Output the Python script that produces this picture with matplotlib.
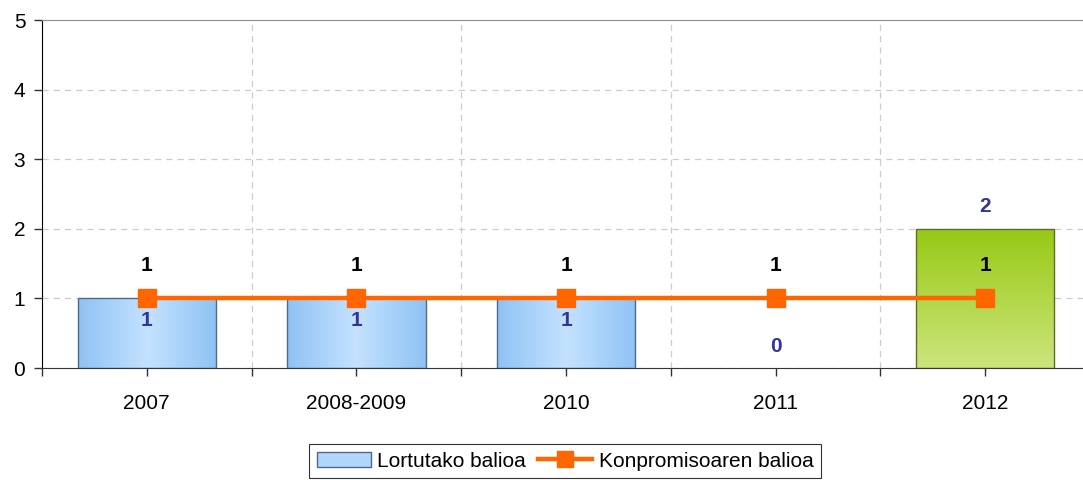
import matplotlib
matplotlib.use("Agg")
import matplotlib.pyplot as plt
import numpy as np
from matplotlib.colors import LinearSegmentedColormap
from matplotlib.patches import Patch
from matplotlib.lines import Line2D

plt.rcParams['font.family'] = ['Liberation Sans', 'DejaVu Sans']

categories = ['2007', '2008-2009', '2010', '2011', '2012']
lortutako = [1, 1, 1, 0, 2]
konpromisoa = [1, 1, 1, 1, 1]

blue_cmap = LinearSegmentedColormap.from_list('b', ['#8fc3f5', '#c4e2ff', '#8fc3f5'])
green_cmap = LinearSegmentedColormap.from_list('g', ['#cde57c', '#97c915'])

fig = plt.figure(figsize=(10.83, 4.8), dpi=100)
ax = fig.add_axes([42 / 1083, 1 - 368 / 480, 1048 / 1083, 348 / 480])

x = np.arange(len(categories))
bars = ax.bar(x, lortutako, width=0.66, facecolor='none', zorder=3)

for b, v, t in zip(bars, lortutako, konpromisoa):
    if v == 0:
        continue
    x0, y0 = b.get_x(), b.get_y()
    x1, y1 = x0 + b.get_width(), y0 + b.get_height()
    if v > t:
        grad = np.linspace(0, 1, 100).reshape(-1, 1)
        cmap, edge = green_cmap, '#5f6b2a'
    else:
        grad = np.linspace(0, 1, 100).reshape(1, -1)
        cmap, edge = blue_cmap, '#4e6a88'
    im = ax.imshow(grad, extent=[x0, x1, y0, y1], origin='lower', aspect='auto',
                   cmap=cmap, zorder=2)
    im.set_clip_path(b)
    b.set_edgecolor(edge)
    b.set_linewidth(1.0)

ax.plot(x, konpromisoa, color='#ff6600', lw=3.2, marker='s', markersize=12.5,
        zorder=5, clip_on=False)

# data labels
for xi, v, t in zip(x, lortutako, konpromisoa):
    off = -22 if v == t else 22
    ax.annotate(str(v), (xi, v), xytext=(0, off), textcoords='offset pixels',
                ha='center', va='center', fontsize=15, fontweight='bold',
                color='#333399', zorder=6)
for xi, t in zip(x, konpromisoa):
    ax.annotate(str(t), (xi, t), xytext=(0, 33), textcoords='offset pixels',
                ha='center', va='center', fontsize=15, fontweight='bold',
                color='black', zorder=6)

ax.set_xlim(-0.5, len(categories) - 0.5)
ax.set_ylim(0, 5)
ax.set_yticks(range(6))
ax.set_xticks(x)
ax.set_xticklabels(categories)
ax.set_xticks(np.arange(-0.5, len(categories), 1.0), minor=True)

ax.grid(axis='y', which='major', color='#cccccc', linestyle=(0, (5, 4)), lw=0.9, zorder=0)
ax.grid(axis='x', which='minor', color='#cccccc', linestyle=(0, (5, 4)), lw=0.9, zorder=0)
ax.grid(axis='x', which='major', visible=False)

ax.tick_params(axis='both', which='both', direction='out', length=6, width=1, color='#333333',
               labelsize=15)
ax.tick_params(axis='x', which='major', pad=13)
ax.tick_params(axis='y', pad=6)

ax.spines['left'].set_color('black')
ax.spines['bottom'].set_color('#333333')
ax.spines['top'].set_color('#909090')
ax.spines['right'].set_visible(False)

handles = [Patch(facecolor='#b0d6fb', edgecolor='#4e6a88', lw=1),
           Line2D([], [], color='#ff6600', lw=3.2, marker='s', markersize=12)]
leg = fig.legend(handles, ['Lortutako balioa', 'Konpromisoaren balioa'],
                 loc='lower center', bbox_to_anchor=(565 / 1083, 0.004), ncol=2,
                 fontsize=15, frameon=True, fancybox=False, edgecolor='black',
                 handlelength=2.6, handletextpad=0.3, columnspacing=0.6,
                 borderpad=0.35, borderaxespad=0)
leg.get_frame().set_linewidth(0.8)

fig.savefig('out.png', dpi=100)
